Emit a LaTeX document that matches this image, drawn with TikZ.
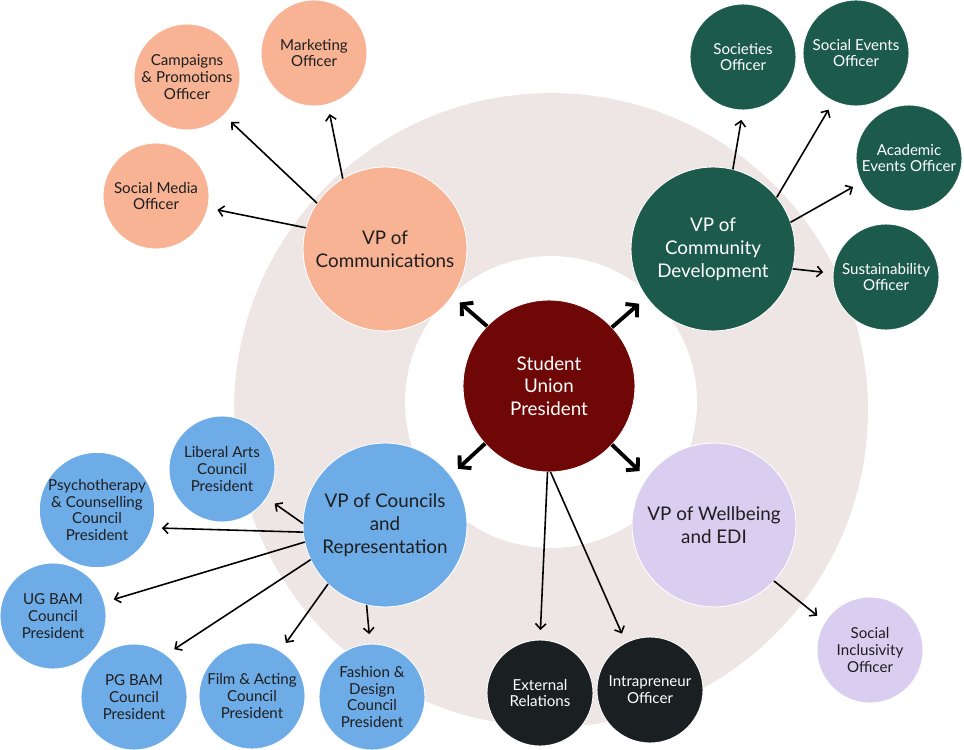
\documentclass[tikz,border=0pt]{standalone}
\usepackage{fontspec}
\setmainfont{Lato}
\usetikzlibrary{arrows.meta}

\definecolor{ringcol}{HTML}{EEE5E5}
\definecolor{comcol}{HTML}{F8B395}
\definecolor{devcol}{HTML}{1C5B4C}
\definecolor{repcol}{HTML}{6EACE8}
\definecolor{wellcol}{HTML}{D9CDF0}
\definecolor{prescol}{HTML}{6E0706}
\definecolor{extcol}{HTML}{1A2022}
\definecolor{inkcol}{HTML}{1E1E1E}

\begin{document}
\begin{tikzpicture}[x=0.02cm,y=-0.02cm,
    bubble/.style={circle,draw=white,line width=0.5pt,inner sep=0pt,outer sep=0pt,align=center,text=inkcol},
    small/.style={bubble,minimum size=2.12cm,font=\fontsize{8.6}{9.6}\selectfont},
    big/.style={bubble,minimum size=3.28cm,font=\fontsize{10.7}{13}\selectfont},
    arr/.style={line width=0.9pt,-{Straight Barb[length=3pt,width=6pt]},shorten >=0.2cm},
    bigarr/.style={line width=2.2pt,-{Straight Barb[length=4.5pt,width=10pt]},shorten >=0.2cm}]
    \useasboundingbox (0,0) rectangle (964,750);
    %anello di sfondo
    \fill[ringcol] (551,410) circle (6.34cm);
    \fill[white] (551,402) circle (2.92cm);
    %presidente e vice
    \node[big,minimum size=3.44cm,fill=prescol,text=white] (sup) at (549,386) {Student\\Union\\President};
    \node[big,fill=comcol] (comms) at (385,249) {VP of\\Communications};
    \node[big,fill=devcol,text=white] (commdev) at (713,249) {VP of\\Community\\Development};
    \node[big,fill=repcol] (councils) at (385,525) {VP of Councils\\and\\Representation};
    \node[big,fill=wellcol] (wellbeing) at (714,525) {VP of Wellbeing\\and EDI};
    %comunicazione
    \node[small,fill=comcol] (campaigns) at (187,77) {Campaigns\\\& Promotions\\Officer};
    \node[small,fill=comcol] (marketing) at (314,53) {Marketing\\Officer};
    \node[small,fill=comcol] (socialmedia) at (156,196) {Social Media\\Officer};
    %sviluppo comunita
    \node[small,fill=devcol,text=white] (societies) at (743,57) {Societies\\Officer};
    \node[small,fill=devcol,text=white] (socialevents) at (856,53) {Social Events\\Officer};
    \node[small,fill=devcol,text=white] (academic) at (909,158) {Academic\\Events Officer};
    \node[small,fill=devcol,text=white] (sustain) at (886,277) {Sustainability\\Officer};
    %consigli
    \node[small,fill=repcol] (liberal) at (222,469) {Liberal Arts\\Council\\President};
    \node[small,fill=repcol] (psycho) at (97,510) {Psychotherapy\\\& Counselling\\Council\\President};
    \node[small,fill=repcol] (ugbam) at (53,616) {UG BAM\\Council\\President};
    \node[small,fill=repcol] (pgbam) at (134,697) {PG BAM\\Council\\President};
    \node[small,fill=repcol] (film) at (252,696) {Film \& Acting\\Council\\President};
    \node[small,fill=repcol] (fashion) at (372,697) {Fashion \&\\Design\\Council\\President};
    %altri
    \node[small,fill=extcol,text=white] (external) at (540,693) {External\\Relations};
    \node[small,fill=extcol,text=white] (intrap) at (650,690) {Intrapreneur\\Officer};
    \node[small,fill=wellcol] (inclusive) at (870,650) {Social\\Inclusivity\\Officer};
    %frecce grosse
    \foreach \a/\b/\c/\d in {sup/136/comms/325, sup/43/commdev/216,
        sup/222/councils/37, sup/317/wellbeing/145}
        \draw[bigarr] (\a.\b) -- (\c.\d);
    %frecce sottili
    \foreach \a/\b/\c/\d in {comms/146/campaigns/314, comms/121/marketing/285,
        comms/165/socialmedia/347, commdev/76/societies/270,
        commdev/39/socialevents/245, commdev/19/academic/207,
        commdev/346/sustain/176, councils/179/liberal/327,
        councils/185/psycho/342, councils/192/ugbam/15,
        councils/205/pgbam/53, councils/226/film/58,
        councils/257/fashion/92, sup/269/external/90,
        sup/271/intrap/117, wellbeing/317/inclusive/148}
        \draw[arr] (\a.\b) -- (\c.\d);
\end{tikzpicture}
\end{document}
